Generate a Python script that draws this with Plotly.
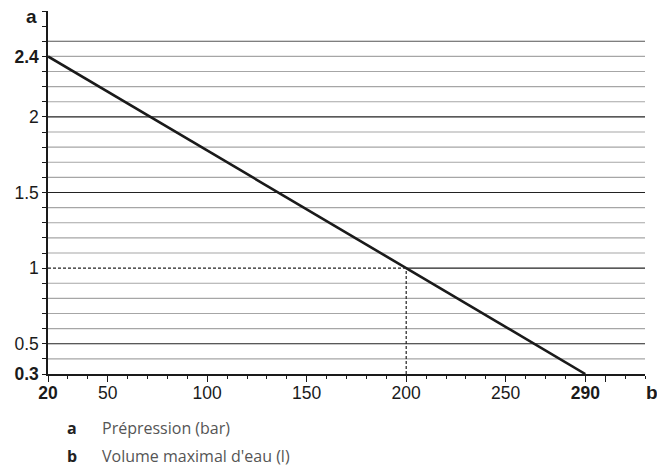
import plotly.graph_objects as go

# data
volume = [20, 290]          # b: Volume maximal d'eau (l)
pressure = [2.4, 0.3]       # a: Prépression (bar)
ref_point = (200, 1.0)      # dashed reading guide

x_tickvals = [20, 50, 100, 150, 200, 250, 290, 300]
x_ticktext = ["<b>20</b>", "50", "100", "150", "200", "250", "<b>290</b>", ""]
y_tickvals = [0.3, 0.5, 1, 1.5, 2, 2.4]
y_ticktext = ["<b>0.3</b>", "0.5", "1", "1.5", "2", "<b>2.4</b>"]

major_levels = [0.5, 1.0, 1.5, 2.0, 2.5]
minor_levels = [round(0.4 + 0.1 * i, 1) for i in range(22) if round(0.4 + 0.1 * i, 1) not in major_levels]

X_MIN, X_MAX = 20, 320
Y_MIN, Y_MAX = 0.3, 2.7

fig = go.Figure()

shapes = []
for lv in minor_levels:
    shapes.append(dict(type="line", xref="x", yref="y", x0=X_MIN, x1=X_MAX, y0=lv, y1=lv,
                       line=dict(color="#a6a6a6", width=1.2), layer="below"))
for lv in major_levels:
    x_start = ref_point[0] if lv == ref_point[1] else X_MIN
    col = "#555555" if lv == 2.5 else "#222222"
    shapes.append(dict(type="line", xref="x", yref="y", x0=x_start, x1=X_MAX, y0=lv, y1=lv,
                       line=dict(color=col, width=1.2), layer="below"))
# dashed guides
shapes.append(dict(type="line", xref="x", yref="y", x0=X_MIN, x1=ref_point[0], y0=ref_point[1], y1=ref_point[1],
                   line=dict(color="#222222", width=1.2, dash="3px,2px")))
shapes.append(dict(type="line", xref="x", yref="y", x0=ref_point[0], x1=ref_point[0], y0=Y_MIN, y1=ref_point[1],
                   line=dict(color="#222222", width=1.2, dash="3px,2px")))

fig.add_trace(go.Scatter(x=volume, y=pressure, mode="lines", line=dict(color="#1a1a1a", width=2.6),
                         showlegend=False, hoverinfo="skip", cliponaxis=False))

font = "Liberation Sans"
legend_font = "Open Sans"


def note(text, x, y, size, color="#1a1a1a", family=font, xanchor="center"):
    return dict(text=text, xref="paper", yref="paper", x=x, y=y, showarrow=False,
                xanchor=xanchor, yanchor="middle", font=dict(family=family, size=size, color=color))


fig.update_layout(
    width=657, height=469,
    margin=dict(l=48, r=12, t=11, b=95, autoexpand=False),
    paper_bgcolor="white", plot_bgcolor="white",
    shapes=shapes,
    font=dict(family=font, size=16, color="#1a1a1a"),
    xaxis=dict(range=[X_MIN, X_MAX], tickmode="array", tickvals=x_tickvals, ticktext=x_ticktext,
               showgrid=False, zeroline=False, showline=True, linecolor="#1a1a1a", linewidth=1.5,
               ticks="outside", ticklen=6, tickcolor="#1a1a1a", tickwidth=1, automargin=False,
               ticklabelstandoff=-4,
               minor=dict(tickmode="linear", tick0=0, dtick=10, ticks="outside", ticklen=3,
                          tickcolor="#1a1a1a", showgrid=False),
               tickfont=dict(family=font, size=17.5), fixedrange=True),
    yaxis=dict(range=[Y_MIN, Y_MAX], tickmode="array", tickvals=y_tickvals, ticktext=y_ticktext,
               showgrid=False, zeroline=False, showline=True, linecolor="#1a1a1a", linewidth=1.5,
               ticks="outside", ticklen=4, tickcolor="#1a1a1a", tickwidth=1, automargin=False,
               minor=dict(tickmode="linear", tick0=0, dtick=0.1, ticks="outside", ticklen=4,
                          tickcolor="#1a1a1a", showgrid=False),
               tickfont=dict(family=font, size=17.5), fixedrange=True),
    annotations=[
        note("<b>a</b>", -0.027, 0.984, 19),
        note("<b>b</b>", 1.012, -0.05, 19),
        note("<b>a</b>", 0.040, -0.148, 16, "#222222", legend_font),
        note("Prépression (bar)", 0.087, -0.148, 16, "#555555", legend_font, "left"),
        note("<b>b</b>", 0.040, -0.226, 16, "#222222", legend_font),
        note("Volume maximal d'eau (l)", 0.087, -0.226, 16, "#555555", legend_font, "left"),
    ],
)

fig.write_html("out.html", config={"displayModeBar": False},
               post_script="document.body.style.margin='0px';")
